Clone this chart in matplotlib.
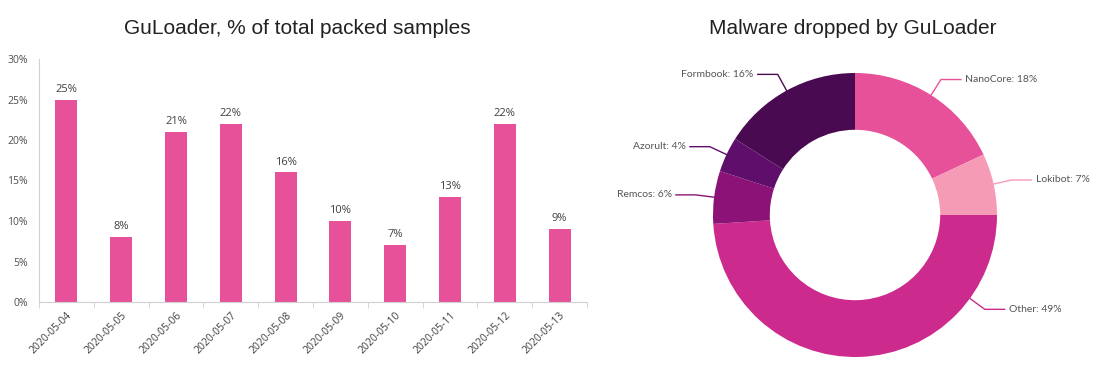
import numpy as np
import matplotlib.pyplot as plt

# ---------------- DATA ----------------

dates = ["2020-05-04", "2020-05-05", "2020-05-06", "2020-05-07", "2020-05-08",
         "2020-05-09", "2020-05-10", "2020-05-11", "2020-05-12", "2020-05-13"]
packed_pct = [25, 8, 21, 22, 16, 10, 7, 13, 22, 9]

families = ["NanoCore", "Lokibot", "Other", "Remcos", "Azorult", "Formbook"]
family_pct = [18, 7, 49, 6, 4, 16]
family_colors = ["#e6519a", "#f59bb6", "#cc2a8c", "#8b1378", "#5f0e6b", "#4a0a52"]

# ---------------- FIGURE ----------------

W, H = 1100, 377
fig = plt.figure(figsize=(W / 100, H / 100), dpi=100)
fig.patch.set_facecolor("white")

# ---------------- BAR CHART ----------------

ax = fig.add_axes([39 / W, 1 - 302 / H, 548 / W, 243 / H])
x = np.arange(len(dates))
ax.bar(x, np.array(packed_pct) / 100, width=0.4, color="#e6519a")
for xi, v in zip(x, packed_pct):
    ax.text(xi, v / 100 + 0.006, f"{v}%", ha="center", va="bottom",
            fontsize=8, color="#404040", family="Open Sans")

ax.set_xlim(-0.5, len(dates) - 0.5)
ax.set_ylim(0, 0.30)
ax.set_yticks(np.arange(0, 0.31, 0.05))
ax.set_yticklabels([f"{int(round(t * 100))}%" for t in np.arange(0, 0.31, 0.05)],
                   fontsize=7.5, color="#505050", family="Open Sans")
ax.set_xticks(x)
ax.set_xticklabels(dates, rotation=45, ha="right", rotation_mode="anchor",
                   fontsize=7.5, color="#404040", family="Open Sans")
ax.set_xticks(np.arange(-0.5, len(dates)), minor=True)
ax.tick_params(axis="x", which="major", length=0, pad=6)
ax.tick_params(axis="x", which="minor", length=4, color="#d0d0d0")
ax.tick_params(axis="y", length=0, pad=8)
for s in ["top", "right"]:
    ax.spines[s].set_visible(False)
for s in ["left", "bottom"]:
    ax.spines[s].set_color("#d0d0d0")

fig.text(297 / W, 1 - 28 / H, "GuLoader, % of total packed samples",
         ha="center", va="center", fontsize=15, family="Liberation Sans",
         color="#222222")

# ---------------- DONUT ----------------

R = 142.0
cx, cy = 855, 215
ax2 = fig.add_axes([600 / W, 0, 500 / W, 1])

wedges, _ = ax2.pie(family_pct, colors=family_colors, startangle=90,
                    counterclock=False, radius=1.0,
                    wedgeprops=dict(width=0.4, edgecolor="none"))

ax2.set_xlim(-(cx - 600) / R, (W - cx) / R)
ax2.set_ylim(-(H - cy) / R, cy / R)
ax2.set_aspect("equal")
ax2.axis("off")

# leader lines; "Other" label sits lower right, not at its mid angle
for w, name, pct, col in zip(wedges, families, family_pct, family_colors):
    ang = (w.theta1 + w.theta2) / 2
    if name == "Other":
        ang = -36
    a = np.deg2rad(ang)
    p0 = np.array([np.cos(a), np.sin(a)])
    p1 = p0 * 1.13
    side = 1 if p0[0] >= 0 else -1
    p2 = p1 + np.array([0.14 * side, 0])
    ax2.plot([p0[0], p1[0], p2[0]], [p0[1], p1[1], p2[1]], color=col, lw=1.0)
    ax2.text(p2[0] + 0.03 * side, p2[1], f"{name}: {pct}%",
             ha="left" if side > 0 else "right", va="center",
             fontsize=7.5, color="#555555", family="Lato")

fig.text(853 / W, 1 - 28 / H, "Malware dropped by GuLoader",
         ha="center", va="center", fontsize=15, family="Liberation Sans",
         color="#222222")

fig.savefig("out.png", dpi=100)
